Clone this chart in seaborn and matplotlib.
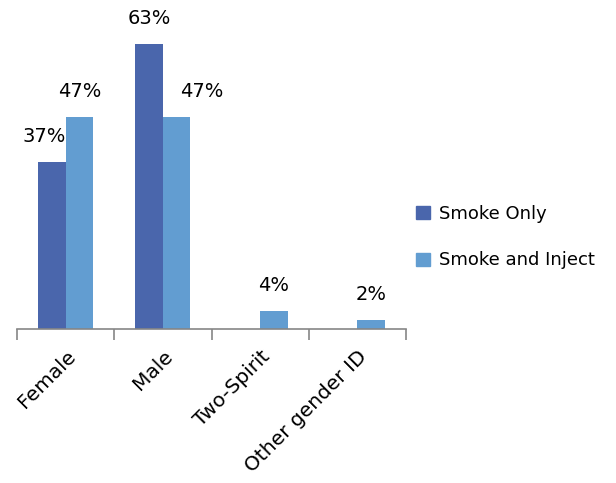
import matplotlib
matplotlib.use("Agg")
import matplotlib.pyplot as plt
import seaborn as sns
import pandas as pd

categories = ["Female", "Male", "Two-Spirit", "Other gender ID"]
series_names = ["Smoke Only", "Smoke and Inject"]
smoke_only = [37, 63, 0, 0]
smoke_inject = [47, 47, 4, 2]
colors = ["#4A66AC", "#629DD1"]

df = pd.DataFrame({
    "category": categories * 2,
    "group": [series_names[0]] * 4 + [series_names[1]] * 4,
    "value": smoke_only + smoke_inject,
})

sns.set_theme(style="white")
plt.rcParams["font.family"] = ["DejaVu Sans"]
plt.rcParams["text.color"] = "black"

W, H = 616, 483
fig = plt.figure(figsize=(W / 100, H / 100), dpi=100)
ax = fig.add_axes([17 / W, (H - 329) / H, 389 / W, 315 / H])

sns.barplot(data=df, x="category", y="value", hue="group", order=categories,
            hue_order=series_names, palette=colors, width=0.567, ax=ax,
            saturation=1, legend=False, edgecolor="none")

ax.set_xlim(-0.5, len(categories) - 0.5)
ax.set_ylim(0, 69.7)

# value labels above bars (a few nudged sideways to avoid overlap)
x_nudge = {(0, 0): -8, (1, 1): 25}
for si, cont in enumerate(ax.containers):
    for ci, bar in enumerate(cont):
        v = bar.get_height()
        if v <= 0:
            continue
        cx = bar.get_x() + bar.get_width() / 2
        ax.annotate(f"{v:.0f}%", (cx, v), xytext=(x_nudge.get((ci, si), 0), 16),
                    textcoords="offset pixels", ha="center", va="bottom",
                    fontsize=14, color="black", annotation_clip=False)

# axes styling
for s in ["top", "right", "left"]:
    ax.spines[s].set_visible(False)
ax.spines["bottom"].set_color("#868686")
ax.spines["bottom"].set_linewidth(1.2)
ax.set_yticks([])
ax.set_xlabel("")
ax.set_ylabel("")

ax.set_xticks(range(len(categories)))
ax.set_xticklabels(categories, rotation=45, ha="right", rotation_mode="anchor",
                   fontsize=14.5, color="black")
ax.tick_params(axis="x", which="major", length=0, pad=13)
ax.set_xticks([i - 0.5 for i in range(len(categories) + 1)], minor=True)
ax.tick_params(axis="x", which="minor", length=8, width=1.2, color="#868686",
               direction="out", bottom=True)

handles = [plt.Rectangle((0, 0), 1, 1, color=c) for c in colors]
fig.legend(handles, series_names, loc="center left",
           bbox_to_anchor=(400 / W, 1 - 237 / H), frameon=False, fontsize=13,
           handlelength=0.75, handleheight=0.75, handletextpad=0.5,
           labelspacing=1.6, labelcolor="black")

fig.savefig("out.png", dpi=100)
